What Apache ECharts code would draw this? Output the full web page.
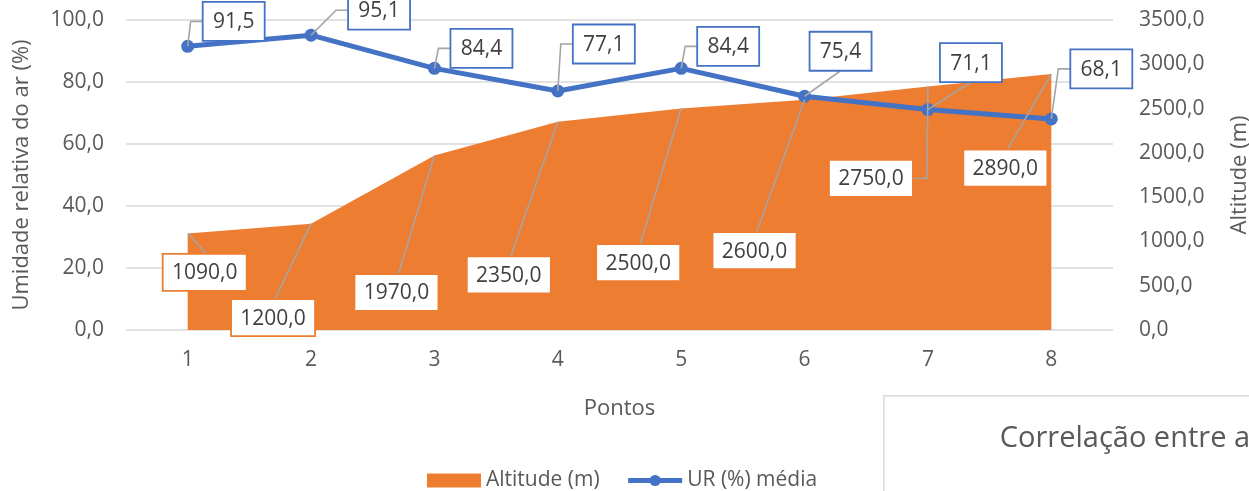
<!DOCTYPE html>
<html>
<head>
<meta charset="utf-8">
<script src="https://cdn.jsdelivr.net/npm/echarts@6/dist/echarts.min.js"></script>
<style>
  html, body { margin: 0; padding: 0; background: #ffffff; }
  #chart { width: 1249px; height: 491px; }
</style>
</head>
<body>
<div id="chart"></div>
<script>
// Pontos de coleta (eixo X)
const pontos = ['1', '2', '3', '4', '5', '6', '7', '8'];
// Altitude de cada ponto (m) – eixo direito
const altitude = [1090, 1200, 1970, 2350, 2500, 2600, 2750, 2890];
// Umidade relativa média (%) – eixo esquerdo
const urMedia = [91.5, 95.1, 84.4, 77.1, 84.4, 75.4, 71.1, 68.1];

// Posição dos rótulos em relação ao ponto: [dx, dy, lado onde chega a linha guia]
const urLabelPlace = [
  [46, -25, 'left'], [68, -25, 'left'], [47, -20, 'left'], [46, -47, 'left'],
  [47, -22, 'left'], [36, -45, 'bottom'], [43, -47, 'bottom'], [50, -50, 'left']
];
const altLabelPlace = [
  [17, 39, 'top'], [-38, 94, 'top'], [-38, 137, 'top'], [-49, 153, 'top'],
  [-43, 154, 'top'], [-50, 151, 'top'], [-57, 92, 'right'], [-46, 94, 'top']
];

const FONT = '"Open Sans", "Liberation Sans", sans-serif';
const TXT = '#595959';
const ORANGE = '#ED7D31';
const BLUE = '#4472C4';

const fmt = v => Number(v).toFixed(1).replace('.', ',');

// Caixa de rótulo com linha guia, desenhada a partir do valor do ponto
function labelRenderer(values, place, boxW, boxH, border) {
  return function (params, api) {
    const i = params.dataIndex;
    const p = api.coord([api.value(0), api.value(1)]);
    const [dx, dy, side] = place[i];
    const cx = p[0] + dx, cy = p[1] + dy;
    const x0 = cx - boxW / 2, y0 = cy - boxH / 2;
    let pts;
    if (side === 'left') pts = [p, [x0 - 12, cy], [x0, cy]];
    else if (side === 'right') pts = [p, [x0 + boxW + 14, cy], [x0 + boxW, cy]];
    else if (side === 'bottom') pts = [p, [cx, y0 + boxH]];
    else pts = [p, [cx + 2, y0]];
    return {
      type: 'group',
      children: [
        { type: 'polyline', shape: { points: pts },
          style: { stroke: '#a5a5a5', lineWidth: 1.6, fill: null } },
        { type: 'rect', shape: { x: x0, y: y0, width: boxW, height: boxH },
          style: { fill: '#ffffff', stroke: border, lineWidth: 1.8 } },
        { type: 'text',
          style: { text: fmt(values[i]), x: cx, y: cy + 1, align: 'center', verticalAlign: 'middle',
                   font: '21px ' + FONT, fill: '#404040' } }
      ]
    };
  };
}

const chart = echarts.init(document.getElementById('chart'), null, { renderer: 'canvas' });

chart.setOption({
  animation: false,
  backgroundColor: '#ffffff',
  textStyle: { fontFamily: FONT },
  grid: { left: 126, right: 136, top: 20, bottom: 161, containLabel: false, outerBoundsMode: 'none' },
  legend: {
    left: 427, top: 470, padding: 0,
    itemWidth: 54, itemHeight: 14, itemGap: 26,
    textStyle: { color: TXT, fontSize: 21, fontFamily: FONT },
    data: [
      { name: 'Altitude (m)', icon: 'rect' },
      { name: 'UR (%) média', lineStyle: { width: 5 } }
    ]
  },
  xAxis: {
    type: 'category',
    data: pontos,
    boundaryGap: true,
    name: 'Pontos',
    nameLocation: 'middle',
    nameGap: 68,
    nameTextStyle: { color: TXT, fontSize: 22, fontFamily: FONT },
    axisLine: { show: false },
    axisTick: { show: false },
    axisLabel: { color: TXT, fontSize: 21, margin: 20, fontFamily: FONT }
  },
  yAxis: [
    {
      type: 'value', min: 0, max: 100, interval: 20,
      name: 'Umidade relativa do ar (%)',
      nameLocation: 'middle', nameGap: 93, nameRotate: 90,
      nameTextStyle: { color: TXT, fontSize: 22, fontFamily: FONT },
      axisLine: { show: false }, axisTick: { show: false },
      axisLabel: { color: TXT, fontSize: 21, margin: 22, formatter: fmt, fontFamily: FONT },
      splitLine: { lineStyle: { color: '#d9d9d9', width: 1.5 } }
    },
    {
      type: 'value', min: 0, max: 3500, interval: 500,
      name: 'Altitude (m)',
      nameLocation: 'middle', nameGap: 116, nameRotate: 90,
      nameTextStyle: { color: TXT, fontSize: 22, fontFamily: FONT },
      axisLine: { show: false }, axisTick: { show: false },
      axisLabel: { color: TXT, fontSize: 21, margin: 26, formatter: fmt, fontFamily: FONT },
      splitLine: { show: false }
    }
  ],
  series: [
    {
      name: 'Altitude (m)',
      type: 'line',
      yAxisIndex: 1,
      data: altitude,
      symbol: 'none',
      lineStyle: { width: 0, color: ORANGE },
      itemStyle: { color: ORANGE },
      areaStyle: { color: ORANGE, opacity: 1 },
      z: 1
    },
    {
      name: 'UR (%) média',
      type: 'line',
      yAxisIndex: 0,
      data: urMedia,
      symbol: 'circle',
      symbolSize: 13,
      lineStyle: { width: 5, color: BLUE },
      itemStyle: { color: BLUE },
      z: 3
    },
    {
      type: 'custom',
      yAxisIndex: 1,
      data: altitude.map((v, i) => [i, v]),
      renderItem: labelRenderer(altitude, altLabelPlace, 84, 37, ORANGE),
      clip: false,
      silent: true,
      z: 4
    },
    {
      type: 'custom',
      yAxisIndex: 0,
      data: urMedia.map((v, i) => [i, v]),
      renderItem: labelRenderer(urMedia, urLabelPlace, 62, 39, BLUE),
      clip: false,
      silent: true,
      z: 5
    }
  ],
  graphic: [
    {
      type: 'group', left: 883, top: 395, z: 100,
      children: [
        { type: 'rect', shape: { x: 0, y: 0, width: 420, height: 120 },
          style: { fill: '#ffffff', stroke: '#d9d9d9', lineWidth: 1.5 } },
        { type: 'text', x: 116, y: 43,
          style: { text: 'Correlação entre a', font: '29px ' + FONT, fill: TXT,
                   verticalAlign: 'middle' } }
      ]
    }
  ]
});
</script>
</body>
</html>
